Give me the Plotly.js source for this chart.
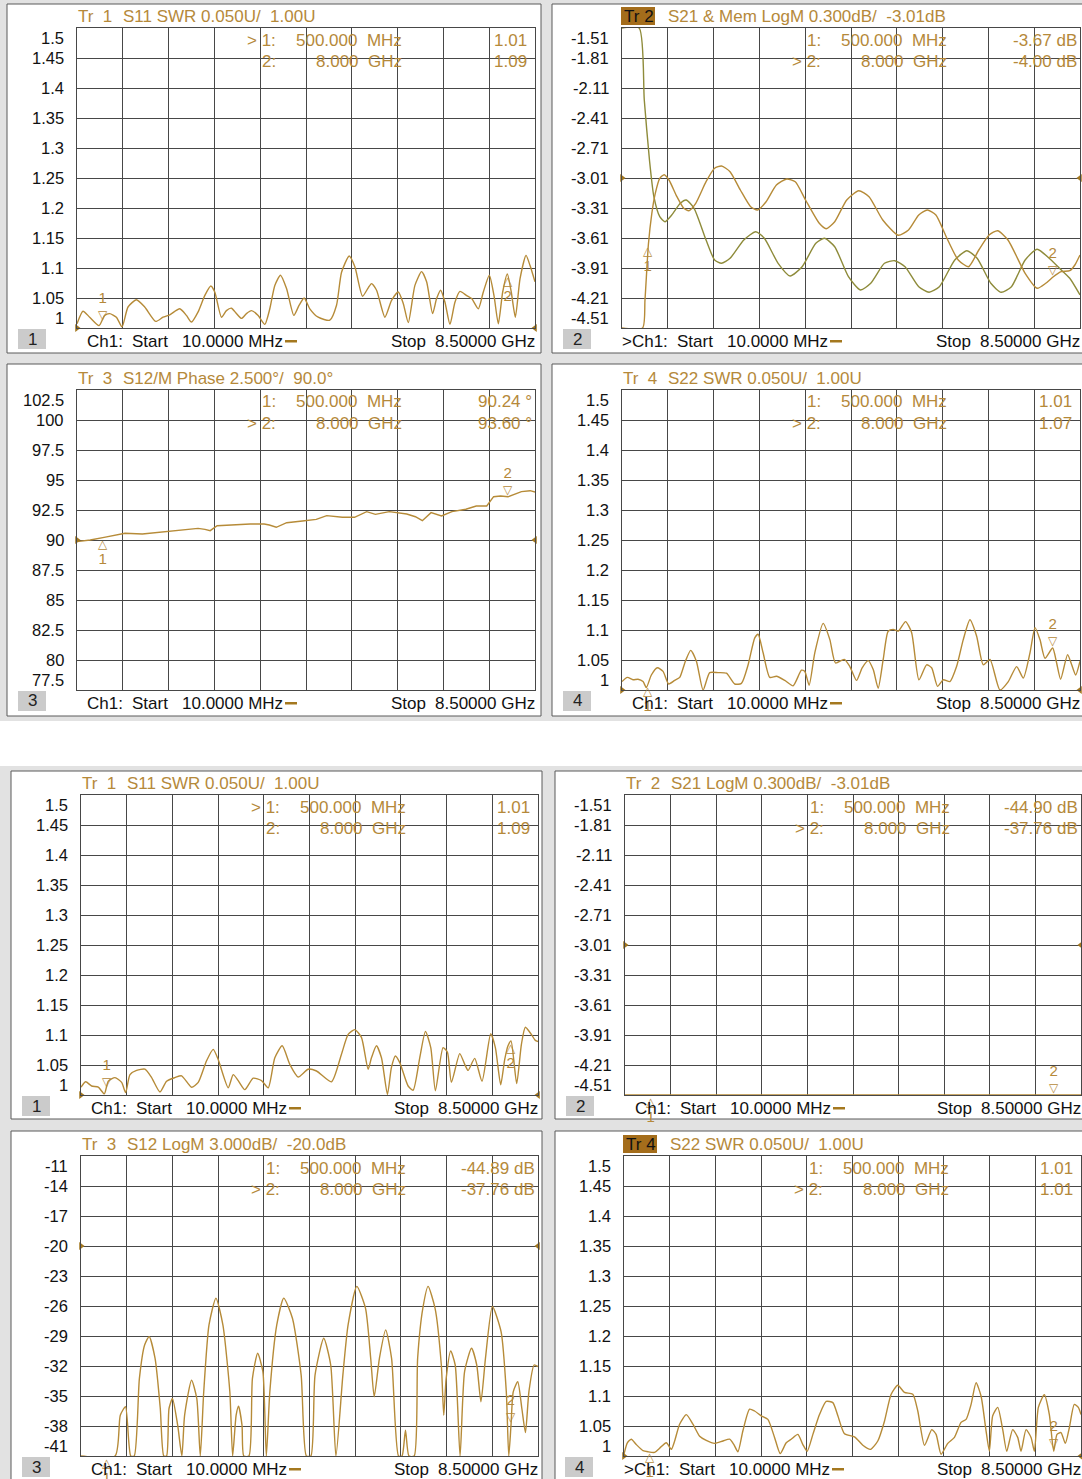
<!DOCTYPE html>
<html><head><meta charset="utf-8">
<script src="https://cdn.plot.ly/plotly-3.0.1.min.js"></script>
<style>html,body{margin:0;padding:0;background:#fff}#chart{width:1082px;height:1479px}</style>
</head><body><div id="chart"></div>
<script>
// ---------------- DATA (frequency in GHz) ----------------
const p1Freq=[0.01,0.121,0.245,0.418,0.523,0.616,0.740,0.845,0.956,1.111,1.265,1.469,1.605,1.729,1.915,2.038,2.131,2.255,2.378,2.490,2.564,2.688,2.780,2.873,2.966,3.059,3.151,3.244,3.368,3.492,3.584,3.677,3.782,3.894,4.030,4.128,4.221,4.326,4.481,4.697,4.821,4.914,5.056,5.161,5.303,5.409,5.470,5.563,5.718,5.841,5.965,6.058,6.151,6.274,6.398,6.491,6.602,6.676,6.751,6.831,6.924,7.016,7.109,7.233,7.326,7.449,7.542,7.653,7.740,7.820,7.901,7.987,8.060,8.136,8.222,8.334,8.408,8.5];
const p1Swr=[1.007,1.028,1.018,1.004,1.021,1.024,1.018,1.002,1.035,1.047,1.035,1.011,1.018,1.022,1.032,1.021,1.010,1.027,1.054,1.070,1.060,1.018,1.029,1.033,1.024,1.016,1.024,1.029,1.021,1.006,1.032,1.071,1.088,1.066,1.021,1.038,1.050,1.032,1.018,1.013,1.038,1.093,1.120,1.102,1.053,1.067,1.074,1.063,1.018,1.046,1.060,1.041,1.009,1.071,1.094,1.077,1.024,1.049,1.063,1.043,1.006,1.043,1.061,1.054,1.049,1.032,1.060,1.088,1.054,1.007,1.060,1.090,1.060,1.018,1.082,1.121,1.104,1.077];

const p2Freq=[0.01,0.392,0.436,0.50,0.563,0.627,0.710,0.792,0.881,1.028,1.155,1.250,1.377,1.568,1.727,1.854,2.013,2.204,2.395,2.522,2.681,2.872,3.063,3.222,3.413,3.667,3.794,3.953,4.176,4.398,4.589,4.844,5.130,5.321,5.511,5.670,5.829,6.020,6.243,6.434,6.624,6.815,6.974,7.165,7.483,7.706,7.865,8.0,8.151,8.31,8.405,8.5];
const p2S21=[-4.51,-4.51,-4.23,-3.67,-3.363,-3.163,-3.013,-2.977,-3.03,-3.197,-3.313,-3.337,-3.263,-3.047,-2.913,-2.89,-2.947,-3.13,-3.297,-3.33,-3.247,-3.08,-3.02,-3.047,-3.23,-3.463,-3.517,-3.447,-3.23,-3.137,-3.197,-3.43,-3.583,-3.53,-3.38,-3.33,-3.38,-3.597,-3.83,-3.897,-3.73,-3.58,-3.537,-3.63,-3.963,-4.113,-4.063,-4.0,-3.947,-3.937,-3.88,-3.78];
const p2MemFreq=[0.01,0.328,0.423,0.519,0.601,0.71,0.805,0.932,1.091,1.199,1.346,1.568,1.727,1.854,2.013,2.268,2.49,2.649,2.904,3.126,3.349,3.603,3.762,3.953,4.208,4.43,4.621,4.875,5.066,5.257,5.511,5.702,5.893,6.179,6.402,6.593,6.847,7.038,7.229,7.483,7.706,7.929,8.12,8.31,8.5];
const p2Mem=[-1.51,-1.51,-2.23,-2.83,-3.197,-3.397,-3.447,-3.38,-3.263,-3.23,-3.313,-3.63,-3.83,-3.863,-3.813,-3.63,-3.547,-3.613,-3.863,-3.99,-3.897,-3.663,-3.613,-3.697,-3.997,-4.13,-4.063,-3.863,-3.837,-3.897,-4.097,-4.153,-4.097,-3.83,-3.737,-3.813,-4.063,-4.153,-4.097,-3.83,-3.723,-3.813,-3.913,-4.013,-4.18];

const p3Freq=[0.01,0.255,0.513,0.706,0.90,1.222,1.351,1.609,1.931,2.254,2.382,2.479,2.608,2.834,3.221,3.479,3.575,3.704,3.897,4.188,4.445,4.639,4.929,5.155,5.38,5.542,5.80,6.122,6.283,6.412,6.573,6.767,6.96,7.218,7.411,7.605,7.733,7.862,8.0,8.249,8.41,8.5];
const p3Phase=[89.86,90.0,90.22,90.42,90.56,90.5,90.56,90.69,90.83,90.97,90.89,90.78,91.19,91.25,91.33,91.33,91.25,91.06,91.44,91.58,91.72,92.03,91.89,91.89,92.36,92.14,92.36,92.17,91.94,91.61,92.28,92.0,92.36,92.56,92.83,92.83,93.61,93.67,93.6,94.03,94.11,94.0];

const p4Freq=[0.01,0.109,0.214,0.307,0.40,0.461,0.554,0.666,0.771,0.876,0.987,1.08,1.185,1.284,1.389,1.513,1.636,1.791,1.946,2.10,2.224,2.348,2.471,2.533,2.626,2.75,2.873,3.028,3.182,3.337,3.399,3.479,3.584,3.739,3.863,3.968,4.129,4.234,4.357,4.462,4.574,4.667,4.759,4.852,4.944,5.038,5.13,5.266,5.378,5.514,5.656,5.749,5.86,5.965,6.089,6.212,6.336,6.46,6.583,6.707,6.831,7.016,7.171,7.326,7.449,7.573,7.666,7.758,7.851,7.993,8.067,8.141,8.27,8.346,8.42,8.5];
const p4Swr=[1.014,1.021,1.017,1.018,1.014,1.004,1.025,1.037,1.031,1.010,1.016,1.021,1.048,1.066,1.048,1.0,1.029,1.029,1.028,1.010,1.011,1.042,1.087,1.093,1.062,1.021,1.023,1.016,1.007,1.033,1.031,1.008,1.062,1.111,1.084,1.045,1.051,1.039,1.016,1.037,1.049,1.034,1.003,1.051,1.098,1.101,1.098,1.114,1.096,1.017,1.042,1.037,1.006,1.017,1.014,1.039,1.084,1.117,1.090,1.042,1.051,1.0,1.014,1.039,1.020,1.062,1.104,1.084,1.053,1.070,1.045,1.018,1.059,1.042,1.025,1.048];

const p5Freq=[0.01,0.097,0.208,0.332,0.443,0.517,0.641,0.765,0.839,0.92,1.043,1.198,1.322,1.477,1.6,1.755,1.879,2.064,2.188,2.343,2.466,2.559,2.745,2.838,2.931,3.054,3.209,3.364,3.488,3.611,3.748,3.89,4.045,4.23,4.385,4.663,4.849,4.973,5.097,5.22,5.344,5.406,5.499,5.592,5.703,5.777,5.851,5.932,6.087,6.18,6.303,6.409,6.508,6.594,6.736,6.818,6.891,7.046,7.139,7.201,7.324,7.46,7.621,7.708,7.807,7.881,7.943,7.999,8.104,8.191,8.265,8.376,8.45,8.5];
const p5Swr=[1.013,1.022,1.015,1.013,1.002,1.023,1.029,1.021,1.004,1.034,1.041,1.043,1.029,1.005,1.023,1.029,1.032,1.013,1.021,1.057,1.076,1.059,1.012,1.034,1.024,1.009,1.028,1.024,1.012,1.062,1.082,1.051,1.030,1.043,1.040,1.022,1.068,1.101,1.109,1.096,1.043,1.062,1.082,1.062,1.001,1.046,1.065,1.054,1.015,1.008,1.062,1.106,1.079,1.007,1.079,1.071,1.021,1.069,1.051,1.041,1.061,1.023,1.102,1.079,1.017,1.059,1.082,1.090,1.019,1.084,1.113,1.101,1.091,1.089];

// S21 in panel 6 is far below the scale; the analyzer pins it to the bottom graticule line
const p6Freq=[0.01,8.5];
const p6S21=[-4.51,-4.51];

const p7Freq=[0.01,0.643,0.74,0.837,0.934,0.999,1.095,1.192,1.276,1.386,1.483,1.548,1.6,1.645,1.709,1.806,1.884,1.935,2.064,2.161,2.226,2.29,2.388,2.517,2.646,2.775,2.827,2.892,2.937,3.001,3.034,3.13,3.195,3.292,3.389,3.453,3.518,3.647,3.777,3.938,4.10,4.197,4.281,4.358,4.52,4.649,4.746,4.875,4.972,5.134,5.295,5.392,5.457,5.554,5.67,5.78,5.909,5.974,6.038,6.103,6.2,6.264,6.361,6.458,6.587,6.704,6.749,6.794,6.878,6.962,7.052,7.136,7.265,7.362,7.44,7.524,7.653,7.814,7.911,7.957,8.0,8.04,8.124,8.2,8.267,8.331,8.428,8.5];
const p7S12=[-41,-41,-36.92,-36.08,-41,-41,-33.24,-29.9,-29.06,-31.23,-36.25,-41,-41,-36.25,-35.25,-37.92,-41,-36.92,-33.41,-35.25,-41,-34.58,-27.89,-25.21,-27.89,-34.58,-41,-36.92,-36.02,-37.92,-41,-41,-33.24,-30.73,-32.57,-41,-34.58,-27.89,-25.21,-27.22,-32.91,-41,-41,-32.91,-29.23,-31.9,-41,-32.91,-27.89,-24.04,-26.22,-31.23,-35.08,-31.23,-28.39,-31.23,-41,-41,-38.42,-41,-41,-31.23,-26.22,-24.04,-26.22,-31.9,-36.92,-33.24,-30.5,-31.9,-41,-32.57,-30.23,-31.9,-35.58,-31.23,-26.05,-28.56,-34.58,-41,-37.76,-34.58,-33.58,-36.25,-38.66,-34.58,-31.9,-32.07];

const p8Freq=[0.01,0.072,0.146,0.239,0.363,0.456,0.579,0.672,0.796,0.889,0.951,1.043,1.167,1.291,1.415,1.538,1.693,1.848,1.972,2.052,2.126,2.219,2.343,2.436,2.56,2.683,2.807,2.912,3.024,3.116,3.24,3.333,3.413,3.519,3.642,3.766,3.89,3.983,4.106,4.292,4.447,4.589,4.725,4.849,4.973,5.096,5.22,5.375,5.468,5.592,5.728,5.808,5.901,6.025,6.149,6.272,6.365,6.458,6.551,6.643,6.736,6.798,6.86,6.953,7.046,7.12,7.231,7.324,7.386,7.479,7.572,7.634,7.708,7.819,7.912,7.993,8.054,8.128,8.209,8.283,8.376,8.45,8.5];
const p8Swr=[1.003,1.022,1.028,1.019,1.009,1.007,1.006,1.013,1.022,1.011,1.025,1.053,1.069,1.053,1.033,1.026,1.021,1.025,1.028,1.019,1.007,1.042,1.078,1.075,1.067,1.061,1.031,1.004,1.022,1.028,1.036,1.019,1.008,1.036,1.069,1.091,1.089,1.067,1.037,1.032,1.018,1.011,1.025,1.058,1.103,1.118,1.106,1.103,1.075,1.018,1.044,1.036,1.003,1.021,1.031,1.056,1.061,1.086,1.122,1.1,1.042,1.008,1.067,1.081,1.044,1.008,1.044,1.031,1.008,1.044,1.031,1.008,1.081,1.102,1.069,1.008,1.036,1.039,1.021,1.047,1.086,1.081,1.069];

// tick labels (top to bottom)
const swrTickVals=[1.5,1.45,1.4,1.35,1.3,1.25,1.2,1.15,1.1,1.05,1.0];
const swrTickText=['1.5','1.45','1.4','1.35','1.3','1.25','1.2','1.15','1.1','1.05','1'];
const s21TickVals=[-1.51,-1.81,-2.11,-2.41,-2.71,-3.01,-3.31,-3.61,-3.91,-4.21,-4.51];
const s21TickText=['-1.51','-1.81','-2.11','-2.41','-2.71','-3.01','-3.31','-3.61','-3.91','-4.21','-4.51'];
const phaseTickVals=[102.5,100,97.5,95,92.5,90,87.5,85,82.5,80,77.5];
const phaseTickText=['102.5','100','97.5','95','92.5','90','87.5','85','82.5','80','77.5'];
const s12TickVals=[-11,-14,-17,-20,-23,-26,-29,-32,-35,-38,-41];
const s12TickText=['-11','-14','-17','-20','-23','-26','-29','-32','-35','-38','-41'];

// markers
const markerFreqs=[0.5,8.0];
const markerFreqText=['500.000\u00a0\u00a0MHz','8.000\u00a0\u00a0GHz'];
const p1Read=[1.01,1.09],   p1ReadText=['1.01','1.09'];
const p2Read=[-3.67,-4.00], p2ReadText=['-3.67 dB','-4.00 dB'];
const p3Read=[90.24,93.60], p3ReadText=['90.24 \u00b0','93.60 \u00b0'];
const p4Read=[1.01,1.07],   p4ReadText=['1.01','1.07'];
const p5Read=[1.01,1.09],   p5ReadText=['1.01','1.09'];
const p6Read=[-44.90,-37.76], p6ReadText=['-44.90 dB','-37.76 dB'];
const p7Read=[-44.89,-37.76], p7ReadText=['-44.89 dB','-37.76 dB'];
const p8Read=[1.01,1.01],   p8ReadText=['1.01','1.01'];

const startText='10.0000 MHz', stopText='8.50000 GHz';

// ---------------- STYLE ----------------
const W=1082,H=1479;
const GOLD='#b5893a', TRACE='#b68b38', MEM='#8e8b3a', GRID='#474747', ARROW='#a4781f';
const FONT='"Liberation Sans", Arial, sans-serif';
const FS=17, TFS=16.5;

const panels=[
 {plot:[77,28,535,328],  frame:[7,4,541,353],    num:'1',tr:'1',trAct:false,title:'S11 SWR 0.050U/\u00a0\u00a01.00U',
  tv:swrTickVals,tt:swrTickText,ref:1.0,series:[{x:p1Freq,y:p1Swr,c:TRACE,s:'spline'}],rd:p1Read,rt:p1ReadText,swr:true,actMk:0,actCh:false},
 {plot:[622,28,1080,328],frame:[552,4,1095,353], num:'2',tr:'2',trAct:true,title:'S21 & Mem LogM 0.300dB/\u00a0\u00a0-3.01dB',
  tv:s21TickVals,tt:s21TickText,ref:-3.01,series:[{x:p2MemFreq,y:p2Mem,c:MEM,s:'spline'},{x:p2Freq,y:p2S21,c:TRACE,s:'spline'}],rd:p2Read,rt:p2ReadText,swr:false,actMk:1,actCh:true},
 {plot:[77,390,535,690], frame:[7,364,541,716],  num:'3',tr:'3',trAct:false,title:'S12/M Phase 2.500\u00b0/\u00a0\u00a090.0\u00b0',
  tv:phaseTickVals,tt:phaseTickText,ref:90,series:[{x:p3Freq,y:p3Phase,c:TRACE,s:'linear'}],rd:p3Read,rt:p3ReadText,swr:false,actMk:1,actCh:false},
 {plot:[622,390,1080,690],frame:[552,364,1095,716],num:'4',tr:'4',trAct:false,title:'S22 SWR 0.050U/\u00a0\u00a01.00U',
  tv:swrTickVals,tt:swrTickText,ref:1.0,series:[{x:p4Freq,y:p4Swr,c:TRACE,s:'spline'}],rd:p4Read,rt:p4ReadText,swr:true,actMk:1,actCh:false},
 {plot:[81,795,538,1095],frame:[11,771,542,1119],num:'1',tr:'1',trAct:false,title:'S11 SWR 0.050U/\u00a0\u00a01.00U',
  tv:swrTickVals,tt:swrTickText,ref:1.0,series:[{x:p5Freq,y:p5Swr,c:TRACE,s:'spline'}],rd:p5Read,rt:p5ReadText,swr:true,actMk:0,actCh:false},
 {plot:[625,795,1081,1095],frame:[555,771,1095,1119],num:'2',tr:'2',trAct:false,title:'S21 LogM 0.300dB/\u00a0\u00a0-3.01dB',
  tv:s21TickVals,tt:s21TickText,ref:-3.01,series:[{x:p6Freq,y:p6S21,c:TRACE,s:'linear'}],rd:p6Read,rt:p6ReadText,swr:false,actMk:1,actCh:false},
 {plot:[81,1156,538,1456],frame:[11,1131,542,1495],num:'3',tr:'3',trAct:false,title:'S12 LogM 3.000dB/\u00a0\u00a0-20.0dB',
  tv:s12TickVals,tt:s12TickText,ref:-20,series:[{x:p7Freq,y:p7S12,c:TRACE,s:'spline'}],rd:p7Read,rt:p7ReadText,swr:false,actMk:1,actCh:false},
 {plot:[624,1156,1081,1456],frame:[555,1131,1095,1495],num:'4',tr:'4',trAct:true,title:'S22 SWR 0.050U/\u00a0\u00a01.00U',
  tv:swrTickVals,tt:swrTickText,ref:1.0,series:[{x:p8Freq,y:p8Swr,c:TRACE,s:'spline'}],rd:p8Read,rt:p8ReadText,swr:true,actMk:1,actCh:true}
];

const X0=0.01, X1=8.5;
const xGrid=Array.from({length:11},(_,i)=>X0+i*(X1-X0)/10);

const data=[], annotations=[], shapes=[];
const layout={width:W,height:H,margin:{l:0,r:0,t:0,b:0},paper_bgcolor:'#ffffff',plot_bgcolor:'#ffffff',
  showlegend:false,font:{family:FONT},annotations,shapes};

function rect(x0,y0,x1,y1,fill,line,layer){
  shapes.push({type:'rect',xref:'paper',yref:'paper',x0:x0/W,x1:x1/W,y0:1-y1/H,y1:1-y0/H,
    fillcolor:fill,line:line?{color:line,width:1}:{width:0},layer:layer||'below'});
}
function txt(text,x,y,xanchor,color,size,extra){
  annotations.push(Object.assign({text,xref:'paper',yref:'paper',x:x/W,y:1-y/H,xanchor,yanchor:'middle',
    showarrow:false,font:{family:FONT,size:size||FS,color:color||GOLD},borderpad:0},extra||{}));
}

// grey instrument background
rect(0,0,W,721,'#e2e2e2');
rect(0,766,W,H,'#e2e2e2');

const TRI_DN='<span style="font-family:DejaVu Sans;font-size:12px">\u25bd</span>';
const TRI_UP='<span style="font-family:DejaVu Sans;font-size:12px">\u25b3</span>';
const NUM=s=>'<span style="font-size:15px">'+s+'</span>';

panels.forEach((p,i)=>{
  const n=i+1, sfx=n>1?String(n):'';
  const xa='x'+sfx, ya='y'+sfx;
  const [L,T,R,B]=p.plot;
  const [fx0,fy0,fx1,fy1]=p.frame;
  rect(fx0,fy0,fx1,fy1,'#ffffff','#5a5a5a');

  const ymin=Math.min(...p.tv), ymax=Math.max(...p.tv);
  layout['xaxis'+sfx]={domain:[L/W,R/W],range:[X0,X1],anchor:ya,tickvals:xGrid,showticklabels:false,ticks:'',
    showgrid:true,gridcolor:GRID,gridwidth:1,showline:true,mirror:true,linecolor:GRID,linewidth:1,zeroline:false,fixedrange:true};
  layout['yaxis'+sfx]={domain:[1-B/H,1-T/H],range:[ymin,ymax],anchor:xa,tickvals:p.tv,showticklabels:false,ticks:'',
    showgrid:true,gridcolor:GRID,gridwidth:1,showline:true,mirror:true,linecolor:GRID,linewidth:1,zeroline:false,fixedrange:true};

  // traces
  p.series.forEach(s=>{
    data.push({type:'scatter',mode:'lines',x:s.x,y:s.y,xaxis:xa,yaxis:ya,
      line:{color:s.c,width:1.4,shape:s.s,smoothing:0.6},hoverinfo:'skip'});
  });
  // reference level arrows
  data.push({type:'scatter',mode:'markers',x:[X0],y:[p.ref],xaxis:xa,yaxis:ya,cliponaxis:false,
    marker:{symbol:'triangle-right',size:7,color:ARROW},hoverinfo:'skip'});
  data.push({type:'scatter',mode:'markers',x:[X1],y:[p.ref],xaxis:xa,yaxis:ya,cliponaxis:false,
    marker:{symbol:'triangle-left',size:7,color:ARROW},hoverinfo:'skip'});

  // tick labels
  p.tv.forEach((v,j)=>{
    annotations.push({text:p.tt[j],xref:'paper',yref:ya,x:(L-12)/W,y:v,xanchor:'right',yanchor:'middle',
      yshift:j===0?-10:(j===p.tv.length-1?10:0),showarrow:false,borderpad:0,
      font:{family:FONT,size:TFS,color:'#111111'}});
  });

  // title
  if(p.trAct){
    rect(L-1,T-21,L+33,T-3,'#a46d1b');
    txt('Tr\u00a0'+p.tr,L+1,T-12,'left','#111111');
  } else {
    txt('Tr\u00a0\u00a0'+p.tr,L,T-12,'left',GOLD);
  }
  txt(p.title,L+45,T-12,'left',GOLD);

  // marker readout table
  markerFreqs.forEach((f,k)=>{
    const y=T+12+k*21;
    const act=(k===p.actMk);
    txt((act?'>\u00a0':'')+(k+1)+':',L+184,y,'left',GOLD,FS,{xshift:act?-15:0});
    txt(markerFreqText[k],L+326,y,'right',GOLD);
    txt(p.rt[k]+(p.swr?'\u00a0':''),R-2,y,'right',GOLD);

    // marker symbol + number on the trace (clamped to the graticule like the analyzer)
    const v=Math.max(ymin,Math.min(ymax,p.rd[k]));
    annotations.push({text:act?(NUM(k+1)+'<br>'+TRI_DN):(TRI_UP+'<br>'+NUM(k+1)),
      xref:xa,yref:ya,x:f,y:v,xanchor:'center',yanchor:act?'bottom':'top',yshift:act?-1:1,
      showarrow:false,borderpad:0,font:{family:FONT,size:12,color:GOLD}});
  });

  // channel / sweep line
  const yb=B+13;
  txt((p.actCh?'>':'')+'Ch1:',L+9,yb,'left','#111111',FS,{xshift:p.actCh?-10:0});
  txt('Start',L+54,yb,'left','#111111');
  txt(startText,L+104,yb,'left','#111111');
  rect(L+208,yb-1,L+220,yb+1.5,ARROW,null,'above');
  txt('Stop',R-145,yb,'left','#111111');
  txt(stopText,R+1,yb,'right','#111111');

  // channel number box
  rect(L-59,B+1,L-31,B+21,'#cbcbcb');
  txt(p.num,L-45,B+11,'center','#222222');
});

Plotly.newPlot('chart',data,layout,{staticPlot:true});
</script></body></html>
